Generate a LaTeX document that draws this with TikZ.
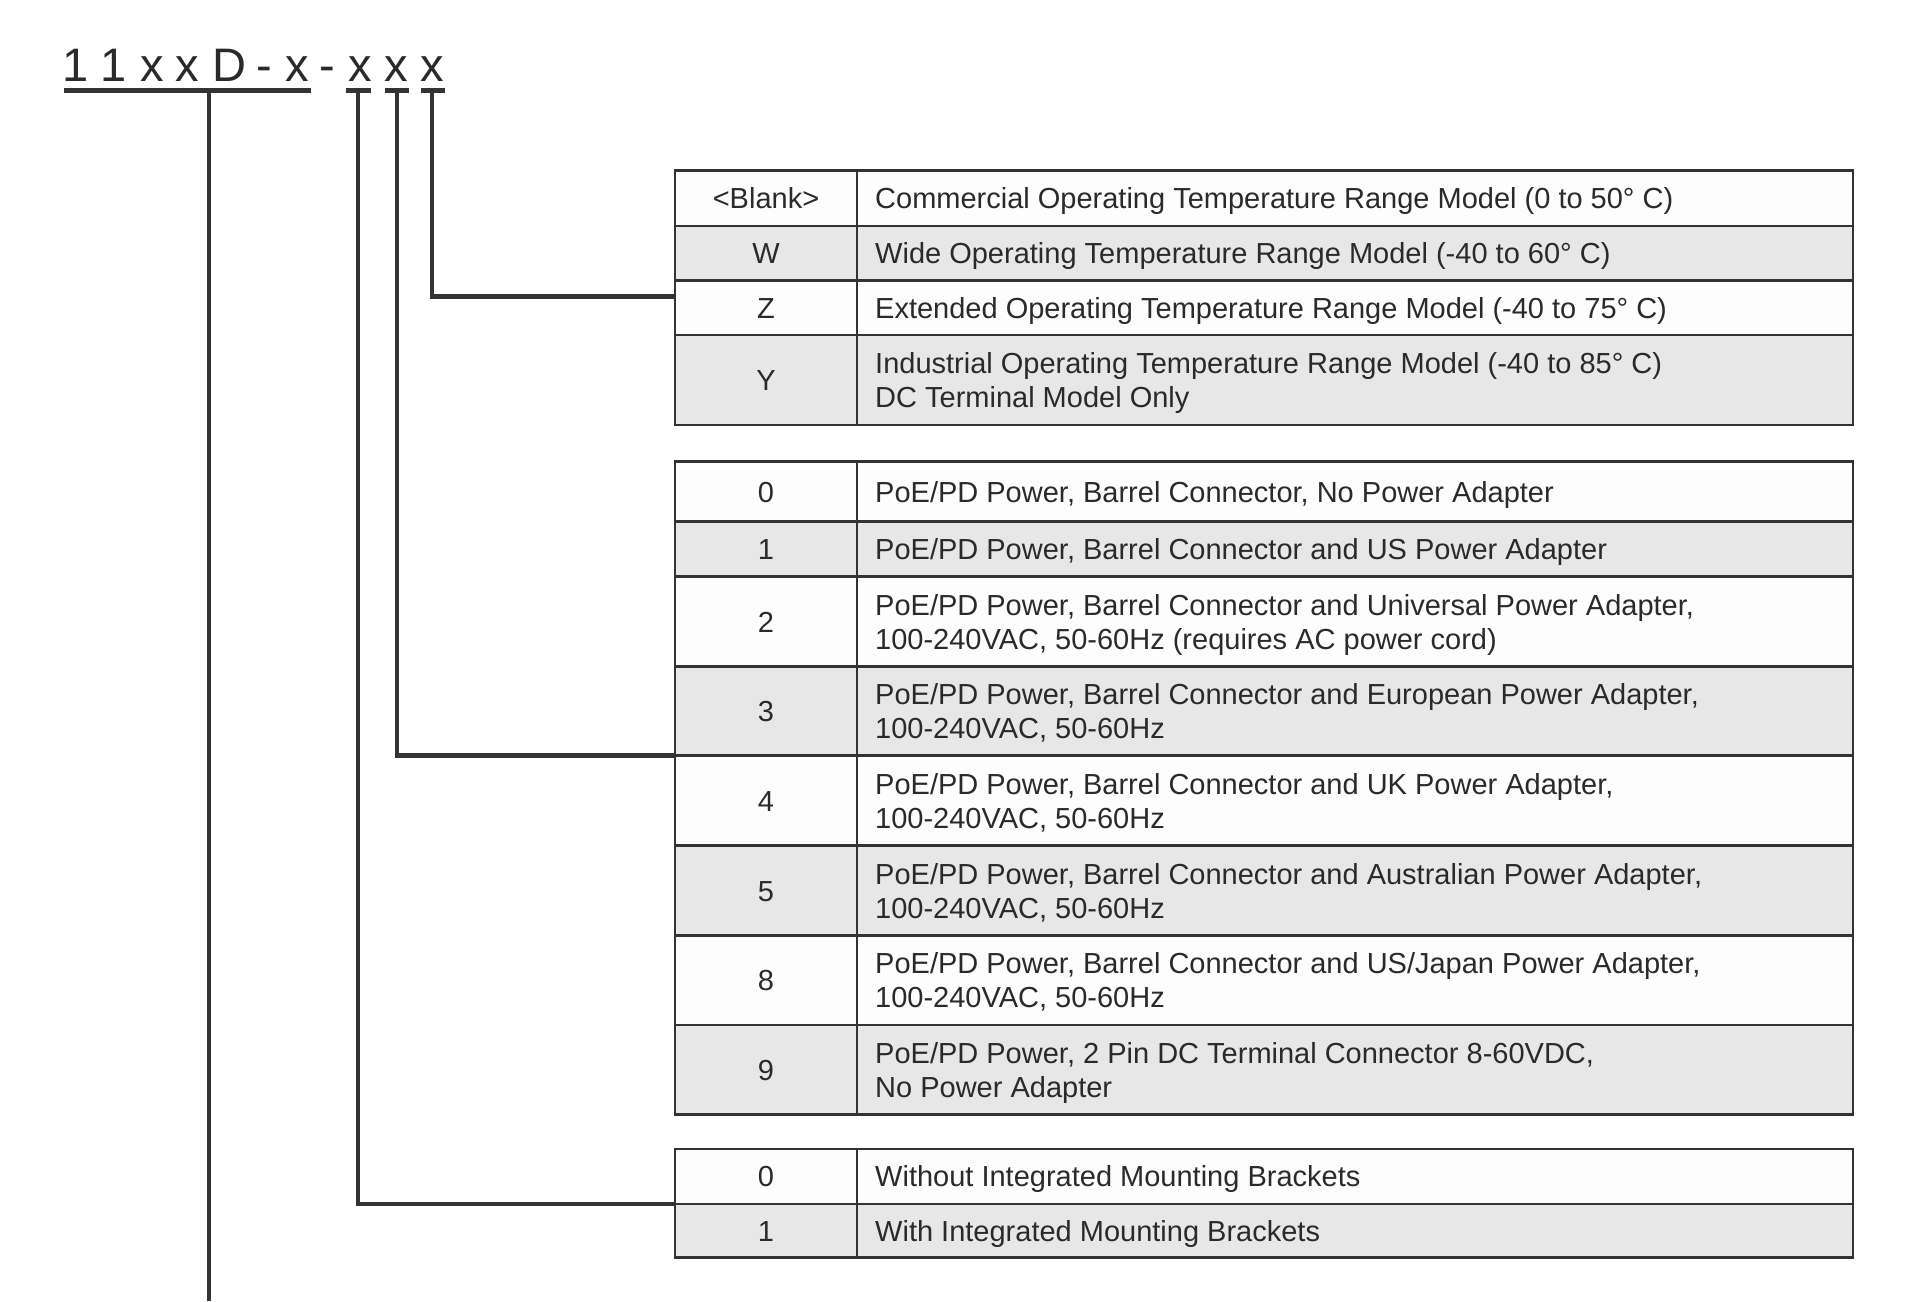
\documentclass[tikz,border=0pt]{standalone}
\usepackage{fontspec}
\setmainfont{Liberation Sans}
\definecolor{linec}{HTML}{333333}
\definecolor{textc}{HTML}{2A2A2A}
\definecolor{rowgray}{HTML}{E7E7E7}
\definecolor{rowwhite}{HTML}{FDFDFD}
\tikzset{
  cellline/.style={draw=linec, line width=2.6pt},
  conn/.style={draw=linec, line width=4.5pt},
  uline/.style={draw=linec, line width=5pt},
  codetxt/.style={anchor=base, inner sep=0pt, text=textc, font=\fontsize{29}{34}\selectfont},
  desctxt/.style={anchor=base west, inner sep=0pt, text=textc, font=\fontsize{29}{34}\selectfont},
  titletxt/.style={anchor=base, inner sep=0pt, text=textc, font=\fontsize{47}{50}\selectfont},
}
% \tabrowone{name}{ytop}{ybot}{fill}{code}{text}
\newcommand{\tabrowone}[6]{%
  \path[fill=#4] (675,#2) rectangle (1853,#3);
  \pgfmathsetmacro{\rc}{(#2+#3)/2}
  \node[codetxt] (#1c) at (766,\rc+10.4) {#5};
  \node[desctxt] (#1d) at (875,\rc+10.4) {#6};
}
\newcommand{\tabrowtwo}[7]{%
  \path[fill=#4] (675,#2) rectangle (1853,#3);
  \pgfmathsetmacro{\rc}{(#2+#3)/2}
  \node[codetxt] (#1c) at (766,\rc+10.4) {#5};
  \node[desctxt] (#1d) at (875,\rc-6.6) {#6};
  \node[desctxt] (#1e) at (875,\rc+27.4) {#7};
}
\begin{document}
\begin{tikzpicture}[x=1pt,y=-1pt]
\useasboundingbox[fill=white] (0,0) rectangle (1916,1301);

% ---------- title ----------
\node[titletxt] (t1) at (75.9,81.7) {1};
\node[titletxt] (t2) at (113.8,81.7) {1};
\node[titletxt] (t3) at (151.8,81.7) {x};
\node[titletxt] (t4) at (187,81.7) {x};
\node[titletxt] (t5) at (229.9,81.7) {D};
\node[titletxt] (t6) at (264,81.7) {-};
\node[titletxt] (t7) at (297.3,81.7) {x};
\node[titletxt] (t8) at (327.7,81.7) {-};
\node[titletxt] (t9) at (359.8,81.7) {x};
\node[titletxt] (t10) at (396.7,81.7) {x};
\node[titletxt] (t11) at (431.9,81.7) {x};

\draw[uline] (64,90.8) -- (311,90.8);
\draw[uline] (346,90.8) -- (371,90.8);
\draw[uline] (385,90.8) -- (409,90.8);
\draw[uline] (421,90.8) -- (445,90.8);

\coordinate (u1) at (209,90.8);
\coordinate (u2) at (358,90.8);
\coordinate (u3) at (397,90.8);
\coordinate (u4) at (432,90.8);
\coordinate (bottomend) at (209,1301);

% ---------- top table ----------
\tabrowone{ra}{170.7}{226}{rowwhite}{<Blank>}{Commercial Operating Temperature Range Model (0 to 50° C)}
\tabrowone{rb}{226}{280.7}{rowgray}{W}{Wide Operating Temperature Range Model (-40 to 60° C)}
\tabrowone{rc}{280.7}{335}{rowwhite}{Z}{Extended Operating Temperature Range Model (-40 to 75° C)}
\tabrowtwo{rd}{335}{425}{rowgray}{Y}{Industrial Operating Temperature Range Model (-40 to 85° C)}{DC Terminal Model Only}
\draw[cellline] (675,170.7) rectangle (1853,425);
\foreach \yy in {226,280.7,335} \draw[cellline] (675,\yy) -- (1853,\yy);
\draw[cellline] (857,170.7) -- (857,425);
\coordinate (tA) at (675,296.7);

% ---------- middle table ----------
\tabrowone{m0}{461.7}{521.7}{rowwhite}{0}{PoE/PD Power, Barrel Connector, No Power Adapter}
\tabrowone{m1}{521.7}{576.7}{rowgray}{1}{PoE/PD Power, Barrel Connector and US Power Adapter}
\tabrowtwo{m2}{576.7}{666.7}{rowwhite}{2}{PoE/PD Power, Barrel Connector and Universal Power Adapter,}{100-240VAC, 50-60Hz (requires AC power cord)}
\tabrowtwo{m3}{666.7}{755.5}{rowgray}{3}{PoE/PD Power, Barrel Connector and European Power Adapter,}{100-240VAC, 50-60Hz}
\tabrowtwo{m4}{755.5}{845.7}{rowwhite}{4}{PoE/PD Power, Barrel Connector and UK Power Adapter,}{100-240VAC, 50-60Hz}
\tabrowtwo{m5}{845.7}{935.5}{rowgray}{5}{PoE/PD Power, Barrel Connector and Australian Power Adapter,}{100-240VAC, 50-60Hz}
\tabrowtwo{m8}{935.5}{1025}{rowwhite}{8}{PoE/PD Power, Barrel Connector and US/Japan Power Adapter,}{100-240VAC, 50-60Hz}
\tabrowtwo{m9}{1025}{1114.7}{rowgray}{9}{PoE/PD Power, 2 Pin DC Terminal Connector 8-60VDC,}{No Power Adapter}
\draw[cellline] (675,461.7) rectangle (1853,1114.7);
\foreach \yy in {521.7,576.7,666.7,755.5,845.7,935.5,1025} \draw[cellline] (675,\yy) -- (1853,\yy);
\draw[cellline] (857,461.7) -- (857,1114.7);
\coordinate (tB) at (675,755.5);

% ---------- bottom table ----------
\tabrowone{b0}{1149}{1204}{rowwhite}{0}{Without Integrated Mounting Brackets}
\tabrowone{b1}{1204}{1257.3}{rowgray}{1}{With Integrated Mounting Brackets}
\draw[cellline] (675,1149) rectangle (1853,1257.3);
\draw[cellline] (675,1204) -- (1853,1204);
\draw[cellline] (857,1149) -- (857,1257.3);
\coordinate (tC) at (675,1204);

% ---------- connectors ----------
\draw[conn] (u1) -- (bottomend);
\draw[conn] (u4) |- (tA);
\draw[conn] (u3) |- (tB);
\draw[conn] (u2) |- (tC);
\end{tikzpicture}
\end{document}
